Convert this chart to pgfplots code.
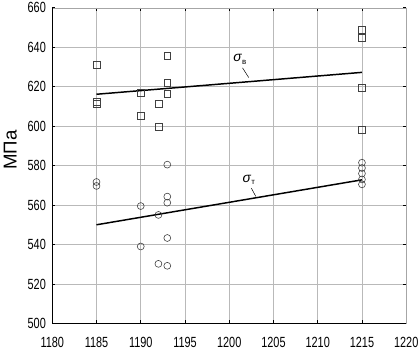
\documentclass[border=0pt]{standalone}
\usepackage{fontspec}
\setmainfont{Liberation Sans}
\newfontfamily\ticknarrow{Liberation Sans}[FakeStretch=0.74]
\usepackage{pgfplots}
\pgfplotsset{compat=1.18}
\begin{document}
\begin{tikzpicture}[x=1bp,y=1bp]
\begin{axis}[
  scale only axis,
  width=359bp, height=320bp,
  xmin=1180, xmax=1220, ymin=500, ymax=660,
  xtick={1180,1185,...,1220},
  ytick={500,520,...,660},
  grid=major,
  major grid style={gray!55, line width=0.6pt},
  axis line style={gray!70, line width=0.6pt},
  tick style={black, line width=0.8pt},
  tick align=inside,
  major tick length=3bp,
  ticklabel style={font=\ticknarrow\fontsize{15}{16}\selectfont},
  xticklabel style={yshift=-11bp},
  yticklabel style={xshift=-3bp},
  /pgf/number format/assume math mode=true,
  /pgf/number format/1000 sep={},
  ylabel={\fontsize{19}{20}\selectfont МПа},
  ylabel style={at={(axis description cs:-0.09,0.549)}},
  clip=false,
]
% thick black left and bottom axes
\draw[black, line width=1.5pt] (axis cs:1180,660) -- (axis cs:1180,500) -- (axis cs:1220,500);
% squares (sigma_B data)
\addplot[only marks, mark=square, mark size=3.5bp, gray!50!black, line width=0.6pt] coordinates {
 (1185,631.3) (1185,611.5) (1185,612.5)
 (1190,617) (1190,605.5)
 (1192,611.5) (1192,599.5)
 (1193,635.5) (1193,621.8) (1193,616.5)
 (1215,648.7) (1215,645) (1215,619.5) (1215,598.3)
};
% circles (sigma_T data)
\addplot[only marks, mark=o, mark size=3.5bp, gray!50!black, line width=0.6pt] coordinates {
 (1185,571.7) (1185,569.7)
 (1190,559.5) (1190,539)
 (1192,555) (1192,530.2)
 (1193,580.5) (1193,564.3) (1193,561.2) (1193,543.3) (1193,529.2)
 (1215,581.5) (1215,578.8) (1215,576) (1215,573) (1215,570.5)
};
% trend lines
\addplot[black, line width=1.5pt, mark=none] coordinates {(1185,616.2) (1215,627.3)};
\addplot[black, line width=1.5pt, mark=none] coordinates {(1185,550) (1215,572.8)};
% labels
\node[font=\fontsize{14}{15}\selectfont] at (axis cs:1201.2,633.8) {\textit{σ}\raisebox{-0.4ex}{\fontsize{8}{9}\selectfont в}};
\draw[black, line width=0.5pt] (axis cs:1201.5,629.6) -- (axis cs:1202.2,624.7);
\node[font=\fontsize{14}{15}\selectfont] at (axis cs:1202.2,572.8) {\textit{σ}\raisebox{-0.4ex}{\fontsize{8}{9}\selectfont т}};
\draw[black, line width=0.5pt] (axis cs:1202.5,568.6) -- (axis cs:1203,564.4);
\end{axis}
\pgfresetboundingbox
\path ([xshift=-53bp,yshift=-29bp]current axis.south west) rectangle ([xshift=14bp,yshift=8bp]current axis.north east);
\end{tikzpicture}
\end{document}
